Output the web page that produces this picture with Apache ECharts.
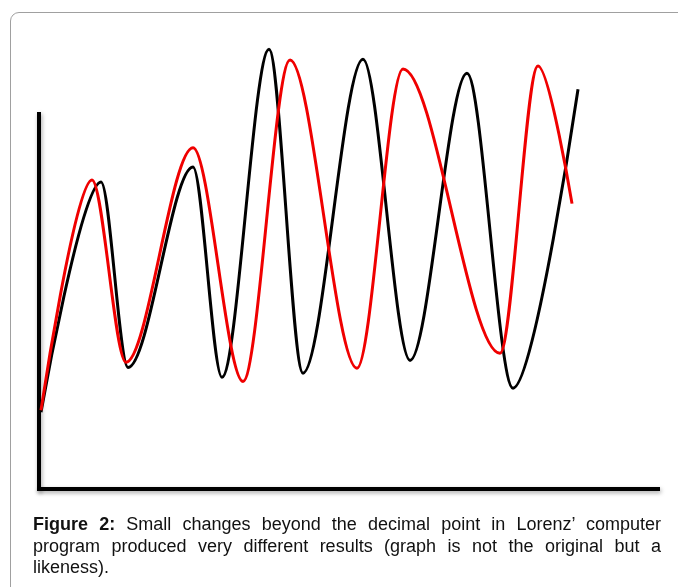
<!DOCTYPE html>
<html>
<head>
<meta charset="utf-8">
<script src="https://cdn.jsdelivr.net/npm/echarts@6/dist/echarts.min.js"></script>
<style>
  html, body { margin: 0; padding: 0; background: #ffffff; }
  body { width: 678px; height: 587px; position: relative; overflow: hidden; }
  #frame { position: absolute; left: 10px; top: 12px; width: 720px; height: 640px;
           border: 1px solid #a0a0a0; border-radius: 9px; box-sizing: border-box; }
  #chart { position: absolute; left: 0; top: 0; width: 678px; height: 587px; }
  #caption { position: absolute; left: 33px; top: 514px; width: 628px;
             font-family: "Liberation Sans", Arial, sans-serif; font-size: 18px;
             line-height: 21.7px; color: #111; text-align: justify; }
</style>
</head>
<body>
<div id="frame"></div>
<div id="chart"></div>
<div id="caption"><b>Figure 2:</b> Small changes beyond the decimal point in Lorenz’ computer program produced very different results (graph is not the original but a likeness).</div>
<script>
// Black run (original): start, successive peaks/troughs, end
const blackT = [0.32, 10.02, 14.38, 24.88, 29.56, 37.16, 42.65, 52.34, 59.94, 69.14, 76.58, 87.08];
const blackV = [20.5, 81.9, 32.4, 85.9, 29.8, 117.3, 30.9, 114.6, 34.3, 110.9, 26.9, 106.6];

// Red run (tiny change in the starting value): start, successive peaks/troughs, end
const redT = [0.32, 8.56, 14.05, 24.88, 32.96, 40.55, 51.37, 58.80, 74.47, 80.61, 86.11];
const redV = [21.0, 82.4, 33.8, 91.0, 28.7, 114.4, 32.2, 112.0, 36.2, 112.8, 76.1];

const pairs = (ts, vs) => ts.map((t, i) => [t, vs[i]]);

const axisLineStyle = {
  color: '#000', width: 4, cap: 'square',
  shadowColor: 'rgba(0,0,0,0.35)', shadowBlur: 4, shadowOffsetX: 1, shadowOffsetY: 2
};

const chart = echarts.init(document.getElementById('chart'), null, { renderer: 'canvas' });
chart.setOption({
  backgroundColor: 'transparent',
  animation: false,
  grid: { left: 39, right: 20, top: 114, bottom: 98, containLabel: false, outerBoundsMode: 'none' },
  xAxis: {
    type: 'value', min: 0, max: 100,
    axisLine: { show: true, onZero: false, lineStyle: axisLineStyle },
    axisTick: { show: false }, axisLabel: { show: false }, splitLine: { show: false }
  },
  yAxis: {
    type: 'value', min: 0, max: 100,
    axisLine: { show: true, onZero: false, lineStyle: axisLineStyle },
    axisTick: { show: false }, axisLabel: { show: false }, splitLine: { show: false }
  },
  series: [
    {
      name: 'Run A', type: 'line', data: pairs(blackT, blackV), smooth: 0.32, smoothMonotone: 'x',
      symbol: 'none', clip: false, lineStyle: { color: '#000000', width: 3 }
    },
    {
      name: 'Run B', type: 'line', data: pairs(redT, redV), smooth: 0.32, smoothMonotone: 'x',
      symbol: 'none', clip: false, lineStyle: { color: '#f00000', width: 3 }
    }
  ]
});
</script>
</body>
</html>
